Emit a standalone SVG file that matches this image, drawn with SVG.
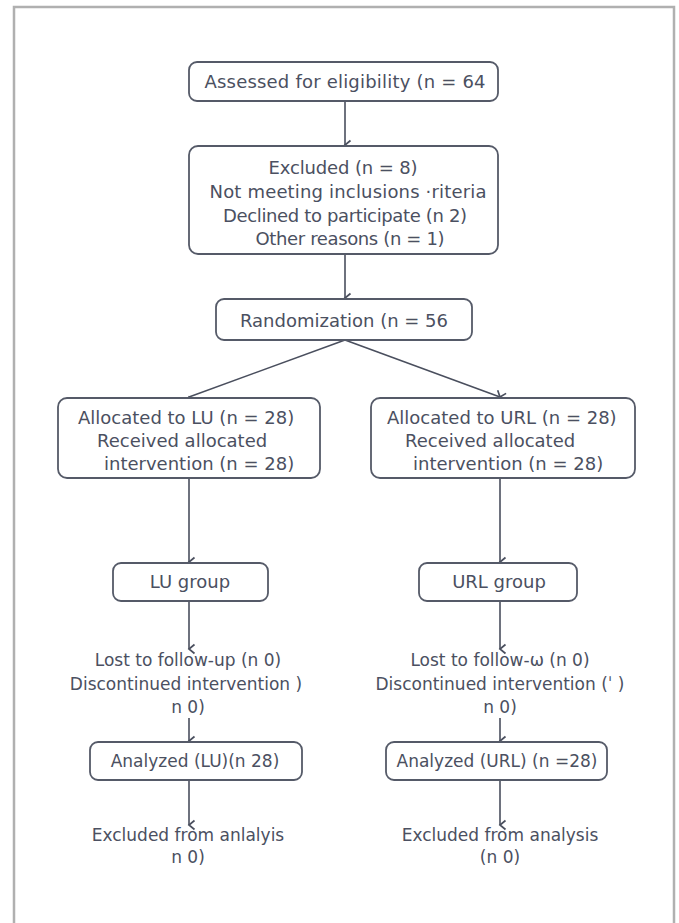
<svg xmlns="http://www.w3.org/2000/svg" width="679" height="923" viewBox="0 0 679 923">
<defs>
<marker id="ah" markerWidth="12" markerHeight="12" refX="6" refY="9" orient="auto" markerUnits="userSpaceOnUse" viewBox="0 0 12 12">
<path d="M1.5,3.5 L6,9 L10.5,3.5" fill="none" stroke="#4a4f5e" stroke-width="1.7"/>
</marker>
</defs>
<style>
.box{fill:#fff;stroke:#555a68;stroke-width:1.8}
.t{font-family:"DejaVu Sans","Liberation Sans",sans-serif;font-size:18px;fill:#4b5061;text-anchor:middle}
.m{font-size:17px}
.s{text-anchor:start}
.c{stroke:#4a4f5e;stroke-width:1.6;fill:none}
</style>
<rect x="0" y="0" width="679" height="923" fill="#fff"/>
<path d="M14,930 V7 H674 V930" fill="none" stroke="#b0b0b0" stroke-width="2.5"/>
<g id="connectors">
<line class="c" x1="345" y1="101" x2="345" y2="145" marker-end="url(#ah)"/>
<line class="c" x1="345" y1="254" x2="345" y2="298" marker-end="url(#ah)"/>
<line class="c" x1="345" y1="340" x2="189" y2="397" marker-end="url(#ah)"/>
<line class="c" x1="345" y1="340" x2="500" y2="397" marker-end="url(#ah)"/>
<line class="c" x1="189" y1="478" x2="189" y2="562" marker-end="url(#ah)"/>
<line class="c" x1="500" y1="478" x2="500" y2="562" marker-end="url(#ah)"/>
<line class="c" x1="189" y1="601" x2="189" y2="649" marker-end="url(#ah)"/>
<line class="c" x1="500" y1="601" x2="500" y2="649" marker-end="url(#ah)"/>
<line class="c" x1="189" y1="718" x2="189" y2="741" marker-end="url(#ah)"/>
<line class="c" x1="500" y1="718" x2="500" y2="741" marker-end="url(#ah)"/>
<line class="c" x1="189" y1="780" x2="189" y2="825" marker-end="url(#ah)"/>
<line class="c" x1="500" y1="780" x2="500" y2="825" marker-end="url(#ah)"/>
</g>
<g id="assessed">
<rect class="box" x="189" y="62" width="309" height="39" rx="8"/>
<text class="t" x="345" y="88" textLength="281" lengthAdjust="spacing">Assessed for eligibility (n = 64</text>
</g>
<g id="excluded">
<rect class="box" x="189" y="146" width="309" height="108" rx="9"/>
<text class="t" x="343" y="174" textLength="149" lengthAdjust="spacing">Excluded (n = 8)</text>
<text class="t" x="348" y="198" textLength="277" lengthAdjust="spacing">Not meeting inclusions ·riteria</text>
<text class="t" x="345" y="222" textLength="244" lengthAdjust="spacing">Declined to participate (n 2)</text>
<text class="t" x="350" y="245" textLength="189" lengthAdjust="spacing">Other reasons (n = 1)</text>
</g>
<g id="randomization">
<rect class="box" x="216" y="299" width="256" height="41" rx="8"/>
<text class="t" x="344" y="327">Randomization (n = 56</text>
</g>
<g id="alloc-lu">
<rect class="box" x="58" y="398" width="262" height="80" rx="9"/>
<text class="t s" x="78" y="424">Allocated to LU (n = 28)</text>
<text class="t s" x="97" y="447">Received allocated</text>
<text class="t s" x="104" y="470">intervention (n = 28)</text>
</g>
<g id="alloc-url">
<rect class="box" x="371" y="398" width="264" height="80" rx="9"/>
<text class="t s" x="387" y="424">Allocated to URL (n = 28)</text>
<text class="t s" x="405" y="447">Received allocated</text>
<text class="t s" x="413" y="470">intervention (n = 28)</text>
</g>
<g id="lu-group">
<rect class="box" x="113" y="563" width="155" height="38" rx="8"/>
<text class="t" x="190" y="588">LU group</text>
</g>
<g id="url-group">
<rect class="box" x="419" y="563" width="158" height="38" rx="8"/>
<text class="t" x="499" y="588">URL group</text>
</g>
<g id="lost-lu">
<text class="t m" x="188" y="666">Lost to follow-up (n  0)</text>
<text class="t m" x="186" y="690">Discontinued intervention )</text>
<text class="t m" x="188" y="713">n 0)</text>
</g>
<g id="lost-url">
<text class="t m" x="500" y="666">Lost to follow-ω (n  0)</text>
<text class="t m" x="500" y="690">Discontinued intervention (ˈ )</text>
<text class="t m" x="500" y="713">n 0)</text>
</g>
<g id="analyzed-lu">
<rect class="box" x="90" y="742" width="212" height="38" rx="8"/>
<text class="t m" x="195" y="767">Analyzed (LU)(n 28)</text>
</g>
<g id="analyzed-url">
<rect class="box" x="386" y="742" width="221" height="38" rx="8"/>
<text class="t m" x="497" y="767">Analyzed (URL) (n =28)</text>
</g>
<g id="excl-lu">
<text class="t m" x="188" y="841">Excluded from anlalyis</text>
<text class="t m" x="188" y="863">n 0)</text>
</g>
<g id="excl-url">
<text class="t m" x="500" y="841">Excluded from analysis</text>
<text class="t m" x="500" y="863">(n 0)</text>
</g>
</svg>
